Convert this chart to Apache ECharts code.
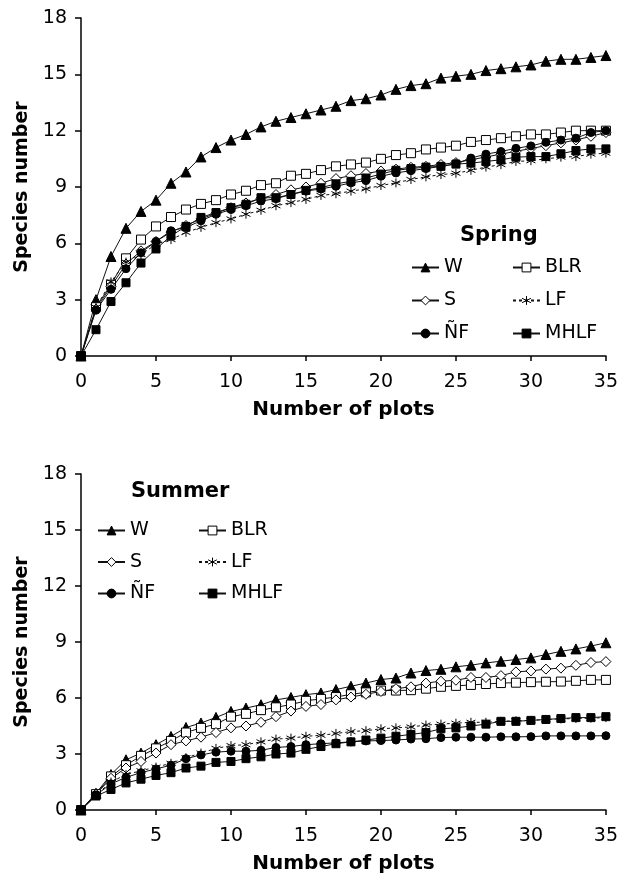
<!DOCTYPE html>
<html>
<head>
<meta charset="utf-8">
<script src="https://cdn.jsdelivr.net/npm/echarts@6/dist/echarts.min.js"></script>
<style>
html,body{margin:0;padding:0;background:#fff;}
#chart{width:621px;height:879px;}
</style>
</head>
<body>
<div id="chart"></div>
<script>
// ---- data ----
const plots = [0,1,2,3,4,5,6,7,8,9,10,11,12,13,14,15,16,17,18,19,20,21,22,23,24,25,26,27,28,29,30,31,32,33,34,35];
const seriesNames = ['W','BLR','S','LF','ÑF','MHLF'];
const xTicks = [0,5,10,15,20,25,30,35];
const yTicks = [0,3,6,9,12,15,18];

const springW    = [0,3.0,5.3,6.8,7.7,8.3,9.2,9.8,10.6,11.1,11.5,11.8,12.2,12.5,12.7,12.9,13.1,13.3,13.6,13.7,13.9,14.2,14.4,14.5,14.8,14.9,15.0,15.2,15.3,15.4,15.5,15.7,15.8,15.8,15.9,16.0];
const springBLR  = [0,2.6,3.8,5.2,6.2,6.9,7.4,7.8,8.1,8.3,8.6,8.8,9.1,9.2,9.6,9.7,9.9,10.1,10.2,10.3,10.5,10.7,10.8,11.0,11.1,11.2,11.4,11.5,11.6,11.7,11.8,11.8,11.9,12.0,12.0,12.0];
const springS    = [0,2.5,3.7,4.9,5.6,6.1,6.6,6.95,7.3,7.6,7.9,8.15,8.4,8.6,8.85,9.0,9.2,9.45,9.6,9.72,9.85,9.95,10.05,10.1,10.2,10.3,10.45,10.6,10.75,10.9,11.05,11.2,11.35,11.5,11.7,11.9];
const springLF   = [0,2.6,3.95,5.0,5.4,5.95,6.2,6.58,6.85,7.1,7.3,7.55,7.76,8.0,8.17,8.34,8.55,8.64,8.78,8.9,9.08,9.22,9.4,9.54,9.66,9.73,9.89,10.06,10.19,10.36,10.4,10.5,10.59,10.62,10.75,10.8];
const springNF   = [0,2.44,3.55,4.65,5.5,6.1,6.67,6.85,7.2,7.55,7.8,8.0,8.25,8.38,8.6,8.78,8.9,9.04,9.22,9.34,9.57,9.75,9.87,9.98,10.1,10.24,10.54,10.75,10.89,11.06,11.19,11.38,11.5,11.6,11.9,12.0];
const springMHLF = [0,1.4,2.9,3.9,4.95,5.7,6.4,6.9,7.38,7.64,7.9,8.08,8.43,8.43,8.6,8.82,8.96,9.17,9.3,9.48,9.69,9.89,9.98,10.06,10.1,10.22,10.27,10.36,10.45,10.59,10.62,10.62,10.77,10.94,11.03,11.03];

const summerW    = [0,0.9,1.9,2.69,3.05,3.5,3.94,4.42,4.66,4.96,5.28,5.46,5.64,5.9,6.03,6.18,6.27,6.45,6.63,6.8,6.99,7.07,7.34,7.47,7.54,7.67,7.76,7.88,7.97,8.06,8.15,8.33,8.5,8.63,8.78,8.96];
const summerBLR  = [0,0.85,1.8,2.4,2.9,3.3,3.7,4.15,4.4,4.6,5.0,5.15,5.35,5.5,5.65,5.85,5.95,6.05,6.2,6.3,6.4,6.4,6.42,6.5,6.6,6.65,6.7,6.75,6.8,6.82,6.85,6.87,6.88,6.92,6.97,6.97];
const summerS    = [0,0.85,1.7,2.25,2.6,3.05,3.5,3.7,3.9,4.15,4.4,4.5,4.7,5.0,5.3,5.55,5.65,5.9,6.05,6.2,6.35,6.5,6.6,6.8,6.9,6.95,7.1,7.1,7.2,7.4,7.45,7.55,7.6,7.75,7.9,7.95];
const summerLF   = [0,0.8,1.5,1.9,2.1,2.3,2.5,2.8,3.05,3.3,3.45,3.5,3.65,3.8,3.85,3.95,4.0,4.1,4.2,4.25,4.35,4.4,4.45,4.55,4.6,4.65,4.7,4.7,4.75,4.78,4.8,4.85,4.88,4.9,4.92,4.95];
const summerNF   = [0,0.8,1.4,1.75,2.0,2.2,2.4,2.75,2.95,3.1,3.15,3.15,3.2,3.35,3.4,3.5,3.55,3.6,3.65,3.7,3.72,3.75,3.8,3.82,3.88,3.9,3.9,3.9,3.92,3.92,3.93,3.97,3.97,3.97,3.97,3.98];
const summerMHLF = [0,0.75,1.1,1.45,1.65,1.85,2.0,2.25,2.35,2.55,2.6,2.75,2.85,3.0,3.05,3.25,3.4,3.55,3.65,3.75,3.85,3.95,4.05,4.15,4.35,4.4,4.5,4.6,4.75,4.75,4.8,4.85,4.9,4.95,4.95,5.0];

// ---- styles ----
const FONT = 'DejaVu Sans';
const ASTER = 'path://M5,0 L5,10 M0.6,2.5 L9.4,7.5 M0.6,7.5 L9.4,2.5';
const styles = {
  'W':    {symbol:'triangle', size:10, fill:'#000', dash:'solid'},
  'BLR':  {symbol:'rect',     size:9,  fill:'#fff', dash:'solid'},
  'S':    {symbol:'diamond',  size:10, fill:'#fff', dash:'solid'},
  'LF':   {symbol:ASTER,      size:9,  fill:'none', dash:[3,3]},
  'ÑF':   {symbol:'circle',   size:8,  fill:'#000', dash:'solid'},
  'MHLF': {symbol:'rect',     size:8,  fill:'#000', dash:'solid'}
};

function pairs(ys){ return plots.map((x,i)=>[x, ys[i]]); }
function mk(name, ys, idx){
  const st = styles[name];
  return {
    name: name, type:'line', xAxisIndex: idx, yAxisIndex: idx,
    data: pairs(ys),
    symbol: st.symbol, symbolSize: st.size, showAllSymbol: true,
    lineStyle: {color:'#111', width:1, type: st.dash},
    itemStyle: {color: st.fill, borderColor:'#000', borderWidth:1},
    emphasis: {disabled:true},
    animation:false
  };
}

function xAx(idx){
  return {
    type:'value', gridIndex: idx, min:0, max:35, interval:5,
    name:'Number of plots', nameLocation:'middle', nameGap:44,
    nameTextStyle:{fontFamily:FONT, fontWeight:'bold', fontSize:20, color:'#000'},
    axisLine:{show:true, lineStyle:{color:'#000', width:1.5}},
    axisTick:{show:true, inside:false, length:5, lineStyle:{color:'#000', width:1.5}},
    axisLabel:{fontFamily:FONT, fontSize:19, color:'#000', margin:17},
    splitLine:{show:false}
  };
}
function yAx(idx){
  return {
    type:'value', gridIndex: idx, min:0, max:18, interval:3,
    name:'Species number', nameLocation:'middle', nameGap:46,
    nameTextStyle:{fontFamily:FONT, fontWeight:'bold', fontSize:19, color:'#000'},
    axisLine:{show:true, lineStyle:{color:'#000', width:1.5}},
    axisTick:{show:true, inside:false, length:6, lineStyle:{color:'#000', width:1.5}},
    axisLabel:{fontFamily:FONT, fontSize:19, color:'#000', margin:14},
    splitLine:{show:false}
  };
}
function lg(names, left, top, gap){
  return {
    data: names, orient:'vertical', left:left, top:top, padding:0,
    itemWidth:27, itemHeight:11, itemGap:gap, selectedMode:false,
    textStyle:{fontFamily:FONT, fontSize:19, color:'#000', lineHeight:19},
    itemStyle:{borderWidth:1, borderColor:'#000'}
  };
}

const springSets = [springW, springBLR, springS, springLF, springNF, springMHLF];
const summerSets = [summerW, summerBLR, summerS, summerLF, summerNF, summerMHLF];
const series = [];
seriesNames.forEach((n,i)=>series.push(mk(n, springSets[i], 0)));
seriesNames.forEach((n,i)=>series.push(mk(n, summerSets[i], 1)));

const chart = echarts.init(document.getElementById('chart'), null, {renderer:'canvas'});
chart.setOption({
  animation:false,
  backgroundColor:'#fff',
  grid:[
    {left:81, top:18, width:529, height:338},
    {left:81, top:474, width:529, height:336}
  ],
  xAxis:[xAx(0), xAx(1)],
  yAxis:[yAx(0), yAx(1)],
  title:[
    {text:'Spring', left:460, top:225, padding:0, textStyle:{fontFamily:FONT, fontWeight:'bold', fontSize:21, color:'#000'}},
    {text:'Summer', left:131, top:481, padding:0, textStyle:{fontFamily:FONT, fontWeight:'bold', fontSize:21, color:'#000'}}
  ],
  legend:[
    lg(['W','S','ÑF'], 411, 258, 14),
    lg(['BLR','LF','MHLF'], 512, 258, 14),
    lg(['W','S','ÑF'], 97, 521, 12.5),
    lg(['BLR','LF','MHLF'], 198, 521, 12.5)
  ],
  tooltip:{show:false},
  series: series
});
</script>
</body>
</html>
